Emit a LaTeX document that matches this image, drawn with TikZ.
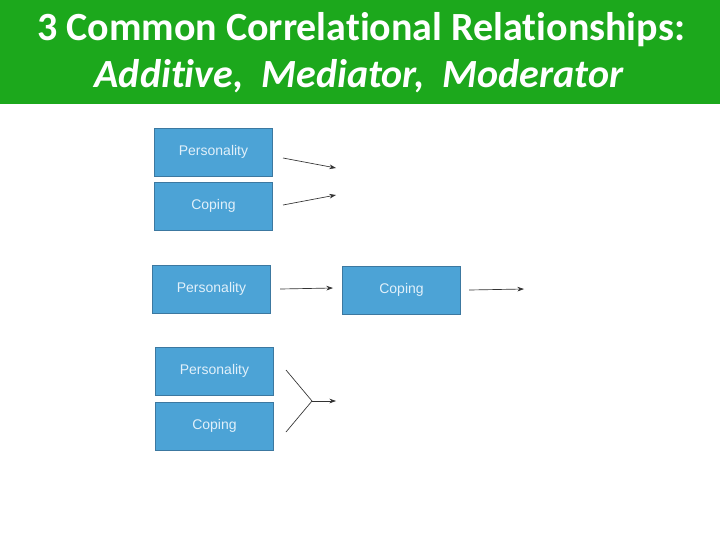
\documentclass[tikz,border=0pt]{standalone}
\usepackage{fontspec}
\setmainfont[Ligatures=NoCommon]{Carlito}
\newfontfamily\boxfont{Liberation Sans}
\usetikzlibrary{arrows.meta}
\definecolor{bannergreen}{RGB}{28,168,28}
\definecolor{boxblue}{RGB}{76,163,214}
\definecolor{boxedge}{RGB}{60,120,160}
\definecolor{boxtext}{RGB}{225,240,250}
\tikzset{
  varbox/.style={draw=boxedge, fill=boxblue, line width=0.6pt, minimum width=89pt, minimum height=36pt, inner sep=0pt, text=boxtext, font=\boxfont\fontsize{10.5}{12}\selectfont},
  link/.style={draw=black!80, line width=0.5pt},
  linkarrow/.style={link, -{Stealth[length=5pt,width=3.5pt]}}
}
\begin{document}
\begin{tikzpicture}[x=0.75pt,y=0.75pt,yscale=-1,xscale=1]
\useasboundingbox (0,0) rectangle (720,540);
\fill [white] (0,0) rectangle (720,540);
%Banner
\fill [bannergreen] (0,0) rectangle (720,104);
\draw (361,30) node [text=white, font=\fontsize{30}{34}\selectfont\bfseries] (title1) {3 Common Correlational Relationships:};
\draw (359,76) node [text=white, font=\fontsize{30}{34}\selectfont\bfseries\itshape] (title2) {Additive,\ \ Mediator,\ \ Moderator};
%Additive
\draw (213.5,152) node [varbox] (pers1) {Personality};
\draw (213.5,206) node [varbox] (cop1) {Coping};
\coordinate (a1s) at (283,158);
\coordinate (a1e) at (336,168);
\coordinate (a2s) at (283,205);
\coordinate (a2e) at (336,195);
\draw [linkarrow] (a1s) -- (a1e);
\draw [linkarrow] (a2s) -- (a2e);
%Mediator
\draw (211.5,289) node [varbox] (pers2) {Personality};
\draw (401.5,290) node [varbox] (cop2) {Coping};
\coordinate (med) at (333,288);
\coordinate (out2) at (524,289);
\draw [linkarrow] (pers2.east) ++(9,0) -- (med);
\draw [linkarrow] (cop2.east) ++(8,0) -- (out2);
%Moderator
\draw (214.5,371) node [varbox] (pers3) {Personality};
\draw (214.5,426) node [varbox] (cop3) {Coping};
\coordinate (m1) at (286,370);
\coordinate (m2) at (286,432);
\coordinate (join) at (312,401);
\coordinate (out3) at (336,401);
\draw [link] (m1) -- (join) -- (m2);
\draw [linkarrow] (join) -- (out3);
\end{tikzpicture}
\end{document}
